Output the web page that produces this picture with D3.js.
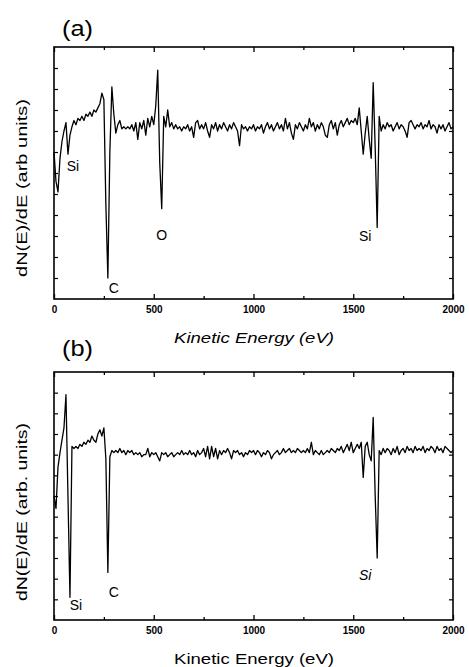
<!DOCTYPE html>
<html>
<head>
<meta charset="utf-8">
<script src="https://cdn.jsdelivr.net/npm/d3@7"></script>
<style>
  html, body { margin: 0; padding: 0; background: #fff; }
  svg { display: block; }
</style>
</head>
<body>
<svg id="chart" width="469" height="667"></svg>
<script>
// ---------------- DATA ----------------
const energy = [
  0,10,20,30,40,50,60,70,80,90,100,110,120,130,140,150,160,170,180,190,
  200,210,220,230,240,250,260,270,280,290,300,310,320,330,340,350,360,370,380,390,
  400,410,420,430,440,450,460,470,480,490,500,510,520,530,540,550,560,570,580,590,
  600,610,620,630,640,650,660,670,680,690,700,710,720,730,740,750,760,770,780,790,
  800,810,820,830,840,850,860,870,880,890,900,910,920,930,940,950,960,970,980,990,
  1000,1010,1020,1030,1040,1050,1060,1070,1080,1090,1100,1110,1120,1130,1140,1150,1160,1170,1180,1190,
  1200,1210,1220,1230,1240,1250,1260,1270,1280,1290,1300,1310,1320,1330,1340,1350,1360,1370,1380,1390,
  1400,1410,1420,1430,1440,1450,1460,1470,1480,1490,1500,1510,1520,1530,1540,1550,1560,1570,1580,1590,
  1600,1610,1620,1630,1640,1650,1660,1670,1680,1690,1700,1710,1720,1730,1740,1750,1760,1770,1780,1790,
  1800,1810,1820,1830,1840,1850,1860,1870,1880,1890,1900,1910,1920,1930,1940,1950,1960,1970,1980,1990,
  2000
];

// Panel (a) dN(E)/dE, arbitrary units
const spectrumA = [
  7.0,5.6,5.1,6.7,7.5,8.0,8.4,6.9,7.8,8.2,8.5,8.3,8.6,8.5,8.7,8.5,8.8,8.7,8.9,8.7,
  9.0,8.9,9.1,9.3,9.8,9.5,4.5,1.0,7.0,10.1,8.8,7.9,8.3,8.5,8.1,8.2,8.1,8.2,8.1,8.3,
  8.0,8.4,7.6,8.4,8.1,8.5,7.8,8.6,8.2,8.7,8.3,9.2,10.9,6.5,4.3,8.7,8.2,9.0,8.2,8.4,
  8.1,8.3,8.1,8.2,8.0,8.2,8.1,8.3,8.0,8.2,7.7,8.4,8.5,8.1,8.3,8.1,8.4,8.0,7.7,8.3,
  8.1,8.4,8.0,8.3,8.1,8.4,8.2,8.0,8.3,8.1,8.4,8.2,8.0,7.3,8.3,8.1,8.2,8.0,8.2,8.1,
  8.3,8.0,8.2,8.1,8.3,7.9,8.2,8.4,8.1,8.3,8.0,8.2,8.4,8.1,8.3,8.0,8.6,8.1,8.4,7.9,
  7.6,8.3,8.1,8.4,8.2,8.0,8.3,8.1,8.6,8.2,8.4,8.0,8.3,8.1,8.4,8.2,7.8,7.7,8.3,8.5,
  8.1,8.4,7.8,8.3,8.5,8.2,8.4,8.6,8.3,8.5,8.4,8.6,8.3,9.1,8.0,6.9,7.9,8.7,7.6,6.7,
  10.3,7.2,3.4,8.7,8.0,8.3,8.1,8.4,8.2,8.3,8.0,8.2,8.4,8.1,8.3,8.2,8.0,7.7,8.4,8.5,
  8.3,8.1,8.3,8.2,8.4,8.1,8.3,8.2,8.5,8.1,8.3,8.2,7.9,8.3,8.1,8.3,8.0,8.2,8.4,8.1,
  8.2
];

// Panel (b) dN(E)/dE, arbitrary units
const spectrumB = [
  6.0,5.4,7.4,8.1,8.7,9.3,10.9,6.0,1.1,8.4,8.3,8.4,8.3,8.5,8.4,8.6,8.5,8.7,8.6,8.9,
  8.7,8.6,9.0,9.2,8.9,9.3,7.8,2.3,7.9,8.2,8.1,8.2,8.1,8.3,8.1,8.2,8.0,8.2,8.1,8.2,
  8.0,8.1,8.0,8.1,7.9,8.0,8.0,8.3,7.9,8.1,8.0,8.1,7.9,7.7,8.1,8.0,8.1,7.9,8.0,8.1,
  7.9,8.0,8.1,8.0,8.2,8.0,8.1,8.0,8.2,8.0,8.1,7.9,8.2,8.0,8.1,8.3,7.9,8.4,7.8,8.4,
  7.9,8.3,7.8,8.2,8.0,8.2,8.1,8.3,8.1,7.8,8.2,8.1,8.2,8.0,8.1,7.9,8.1,8.0,8.2,8.1,
  8.2,8.0,8.2,8.1,7.9,8.1,8.0,8.2,8.1,7.8,8.0,8.1,8.2,8.0,8.1,8.3,8.1,8.2,8.3,8.1,
  8.2,8.1,8.3,8.2,8.1,8.2,8.1,8.3,8.1,8.6,8.0,8.2,8.1,8.0,8.2,8.0,8.1,8.2,8.1,8.3,
  8.2,8.1,8.3,8.2,8.4,8.1,8.3,8.5,8.2,8.6,8.1,8.3,8.5,8.3,8.6,6.9,8.4,8.6,8.0,7.7,
  9.8,6.0,3.0,8.2,8.0,8.3,8.1,8.3,8.2,8.0,8.3,8.1,8.4,8.0,8.2,8.3,8.1,8.4,8.2,8.3,
  8.1,8.4,8.2,8.3,8.2,8.4,8.1,8.3,8.2,8.4,8.3,8.1,8.4,8.2,8.3,8.1,8.4,8.3,8.2,8.1,
  8.2
];

const xTickValues = [0, 500, 1000, 1500, 2000];
const xTickLabels = ["0", "500", "1000", "1500", "2000"];
const xMinorTicks = [250, 750, 1250, 1750];
const yTickValues = [1, 2, 3, 4, 5, 6, 7, 8, 9, 10, 11];

const panelLabels = ["(a)", "(b)"];
const xTitles = ["Kinetic Energy (eV)", "Kinetic Energy (eV)"];
const yTitles = ["dN(E)/dE (arb  units)", "dN(E)/dE (arb. units)"];

// peak annotations: [energy, value, label]
const peakLabelsA = [[95, 6.1, "Si"], [300, 0.3, "C"], [540, 2.8, "O"], [1560, 2.75, "Si"]];
const peakLabelsB = [[110, 0.5, "Si"], [300, 1.1, "C"], [1560, 1.95, "Si"]];

// ---------------- DRAW ----------------
const svg = d3.select("#chart");
const fontFam = "Arial, 'Liberation Sans', Helvetica, sans-serif";

const panels = [
  { top: 47, bottom: 299, data: spectrumA, peaks: peakLabelsA, italicTitle: true,
    labelY: 36, xTitleY: 343, yTitleC: 188, peakItalic: [false,false,false,false] },
  { top: 372, bottom: 620, data: spectrumB, peaks: peakLabelsB, italicTitle: false,
    labelY: 356, xTitleY: 664, yTitleC: 512, peakItalic: [false,false,true] }
];
const left = 54, right = 453;

panels.forEach((p, i) => {
  const x = d3.scaleLinear().domain([0, 2000]).range([left, right]);
  const y = d3.scaleLinear().domain([0, 12]).range([p.bottom, p.top]);
  const g = svg.append("g");

  // bottom axis with labels (inward ticks)
  const bAxis = d3.axisBottom(x).tickValues(xTickValues)
    .tickFormat((d, k) => xTickLabels[k]).tickSize(-5).tickPadding(7);
  const bg = g.append("g").attr("transform", `translate(0,${p.bottom})`).call(bAxis);
  bg.select(".domain").remove();
  bg.selectAll("line").attr("stroke", "#000").attr("stroke-width", 1.3);
  bg.selectAll("text").attr("font-family", fontFam).attr("font-size", 10)
    .attr("font-weight", "bold").attr("fill", "#000");

  const bMinor = d3.axisBottom(x).tickValues(xMinorTicks).tickFormat("").tickSize(-3);
  const bm = g.append("g").attr("transform", `translate(0,${p.bottom})`).call(bMinor);
  bm.select(".domain").remove();
  bm.selectAll("line").attr("stroke", "#000").attr("stroke-width", 1.3);

  // top axis
  const tAxis = d3.axisTop(x).tickValues(xTickValues).tickFormat("").tickSize(-5);
  const tg = g.append("g").attr("transform", `translate(0,${p.top})`).call(tAxis);
  tg.select(".domain").remove();
  tg.selectAll("line").attr("stroke", "#000").attr("stroke-width", 1.3);
  const tMinor = d3.axisTop(x).tickValues(xMinorTicks).tickFormat("").tickSize(-3);
  const tm = g.append("g").attr("transform", `translate(0,${p.top})`).call(tMinor);
  tm.select(".domain").remove();
  tm.selectAll("line").attr("stroke", "#000").attr("stroke-width", 1.3);

  // left / right axes
  const lAxis = d3.axisLeft(y).tickValues(yTickValues).tickFormat("").tickSize(-4);
  const lg = g.append("g").attr("transform", `translate(${left},0)`).call(lAxis);
  lg.select(".domain").remove();
  lg.selectAll("line").attr("stroke", "#000").attr("stroke-width", 1.2);
  const rAxis = d3.axisRight(y).tickValues(yTickValues).tickFormat("").tickSize(-4);
  const rg = g.append("g").attr("transform", `translate(${right},0)`).call(rAxis);
  rg.select(".domain").remove();
  rg.selectAll("line").attr("stroke", "#000").attr("stroke-width", 1.2);

  // spectrum line
  const line = d3.line().x((d, k) => x(energy[k])).y(d => y(d));
  g.append("path").datum(p.data)
    .attr("d", line)
    .attr("fill", "none").attr("stroke", "#000")
    .attr("stroke-width", 1.3).attr("stroke-linejoin", "round");

  // frame
  g.append("rect").attr("x", left).attr("y", p.top)
    .attr("width", right - left).attr("height", p.bottom - p.top)
    .attr("fill", "none").attr("stroke", "#000").attr("stroke-width", 1.6);

  // peak annotations
  p.peaks.forEach((pk, k) => {
    g.append("text").attr("x", x(pk[0])).attr("y", y(pk[1]))
      .attr("text-anchor", "middle")
      .attr("font-family", fontFam).attr("font-size", 14)
      .attr("font-style", p.peakItalic[k] ? "italic" : "normal")
      .attr("fill", "#000").text(pk[2]);
  });

  // panel label
  g.append("text").attr("x", 62).attr("y", p.labelY)
    .attr("font-family", fontFam).attr("font-size", 22)
    .attr("textLength", 31).attr("lengthAdjust", "spacingAndGlyphs")
    .attr("fill", "#000").text(panelLabels[i]);

  // x title
  g.append("text").attr("x", 174).attr("y", p.xTitleY)
    .attr("font-family", fontFam).attr("font-size", 14)
    .attr("font-style", p.italicTitle ? "italic" : "normal")
    .attr("textLength", 160).attr("lengthAdjust", "spacingAndGlyphs")
    .attr("fill", "#000").text(xTitles[i]);

  // y title
  g.append("text")
    .attr("transform", `translate(27,${p.yTitleC}) rotate(-90)`)
    .attr("text-anchor", "middle")
    .attr("font-family", fontFam).attr("font-size", 15)
    .attr("textLength", 178).attr("lengthAdjust", "spacingAndGlyphs")
    .attr("fill", "#000").text(yTitles[i]);
});
</script>
</body>
</html>
